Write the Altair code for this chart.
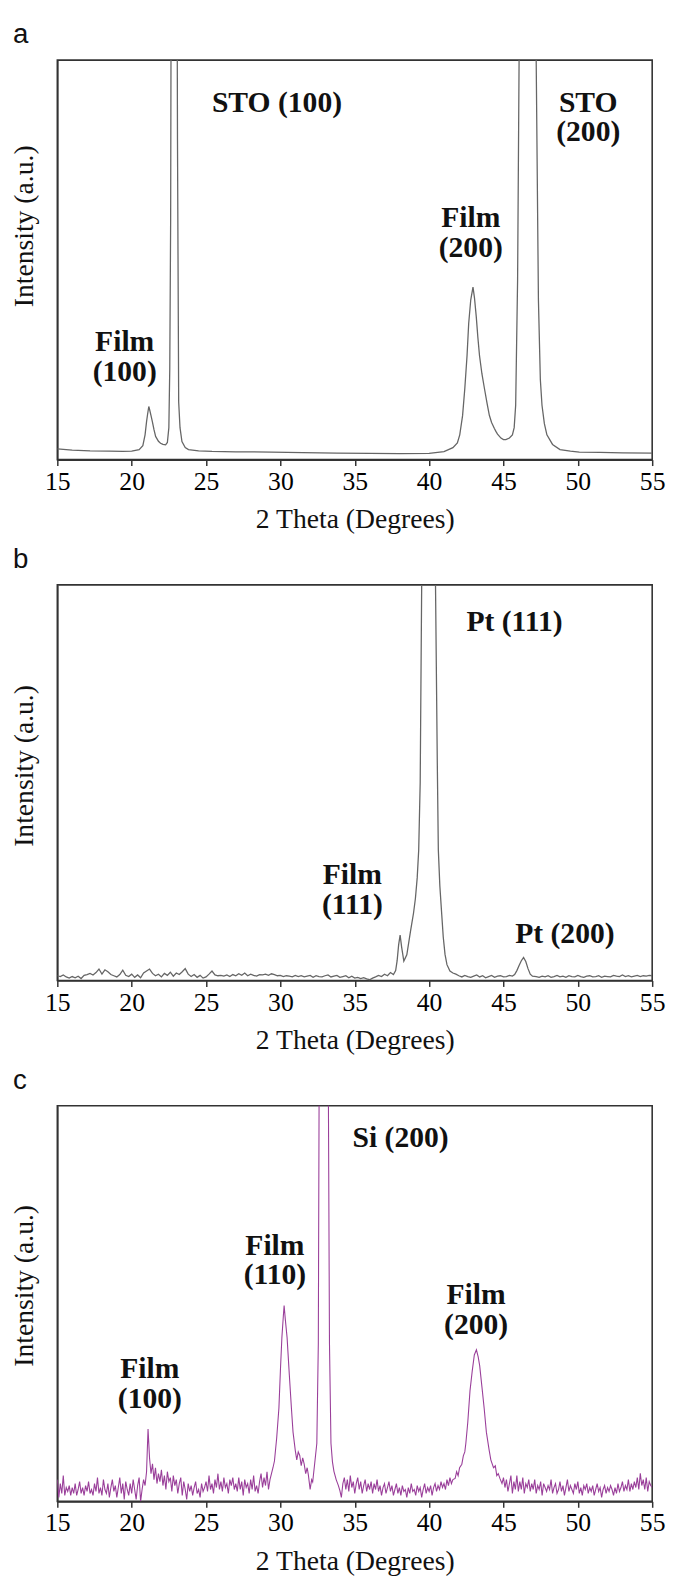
import altair as alt
import pandas as pd

# ---------------- Panel a (STO substrate) ----------------
a_x = [15.0, 16.0, 17.2, 18.5, 19.4, 20.0, 20.5, 20.75, 20.9, 21.0, 21.06, 21.15, 21.2, 21.3, 21.39,
       21.5, 21.61, 21.8, 21.94, 22.1, 22.28, 22.4, 22.5, 22.56, 22.62, 22.7, 22.85, 23.0, 23.08,
       23.16, 23.25, 23.38, 23.6, 23.82, 24.5, 25.4, 27.0, 29.4, 31.5, 33.8, 36.0, 38.0, 40.0, 41.0,
       41.6, 41.9, 42.06, 42.25, 42.4, 42.55, 42.66, 42.8, 42.95, 43.05, 43.17, 43.28, 43.39, 43.55,
       43.72, 43.9, 44.05, 44.2, 44.39, 44.5, 44.6, 44.83, 45.0, 45.16, 45.4, 45.6, 45.72, 45.82,
       45.95, 46.05, 46.3, 46.6, 46.9, 47.2, 47.35, 47.48, 47.59, 47.75, 47.92, 48.3, 48.8, 49.5,
       50.1, 51.5, 53.0, 55.0]
a_y = [2.7, 2.4, 2.2, 2.1, 2.05, 2.1, 2.5, 3.5, 6.2, 9.5, 11.1, 13.3, 12.6, 11.0, 9.5,
       7.5, 5.8, 4.6, 4.1, 3.8, 3.7, 4.3, 8.0, 22.6, 60, 200, 400, 200, 80,
       14.4, 8.0, 4.5, 3.0, 2.5, 2.2, 2.05, 1.95, 1.9, 1.75, 1.6, 1.55, 1.5, 1.55, 2.0,
       3.0, 4.2, 6.2, 11.0, 17.8, 26.0, 34.0, 40.0, 43.2, 40.5, 35.8, 30.5, 26.0, 21.5,
       17.8, 14.0, 11.1, 9.3, 7.8, 7.0, 6.4, 5.4, 5.0, 5.0, 5.4, 6.2, 8.0, 13.6,
       45, 100, 200, 300, 220, 100, 40, 20, 13.6, 9.0, 6.2, 3.8, 2.5, 2.1,
       1.9, 1.8, 1.7, 1.6]

a_lbl = ["STO (100)", "STO\n(200)", "Film\n(200)", "Film\n(100)"]
a_lx = [29.77, 50.7, 42.8, 19.53]
a_ly = [89.3, 89.3, 60.4, 29.4]

# ---------------- Panel b (Pt substrate) ----------------
b_noise1_start, b_step = 15.0, 0.2
b_noise1 = [1.2, 1.0, 1.4, 0.9, 0.6, 1.0, 0.7, 1.1, 0.5, 1.3,
            1.5, 1.8, 1.4, 2.0, 2.9, 1.6, 2.7, 2.2, 1.5, 1.2,
            0.9, 1.5, 2.6, 1.3, 1.0, 1.6, 0.8, 1.4, 0.7, 1.9,
            2.4, 2.9, 1.8, 1.2, 1.6, 0.9, 1.8, 1.3, 2.1, 1.1,
            1.9, 1.5, 2.2, 3.0, 1.6, 1.0, 1.5, 0.8, 1.3, 0.6,
            0.9, 1.6, 2.4, 1.4, 1.2, 1.3, 1.1, 1.4, 1.0, 1.5,
            1.2, 1.7, 1.3, 1.9, 1.2, 1.6, 1.3, 1.1, 1.5, 1.4,
            1.6, 1.3, 1.7, 1.5, 1.2, 1.3, 1.0, 1.2, 1.1, 0.9,
            1.3, 1.0, 1.2, 0.9, 1.1, 1.3, 0.8, 1.2, 1.0, 0.9,
            1.2, 1.4, 0.9, 1.1, 1.3, 0.8, 1.0, 1.2, 0.7, 1.1,
            0.6, 0.8, 0.5, 0.7, 0.4, 0.2, 0.6, 0.9, 1.3, 1.0,
            1.6, 1.2, 2.0, 1.5]
b_peak_x = [37.75, 37.85, 37.95, 38.05, 38.15, 38.3, 38.5, 38.75, 38.95, 39.08, 39.2, 39.3, 39.4,
            39.5, 39.9, 40.2, 40.43, 40.55, 40.62, 40.72, 40.85, 40.95, 41.07, 41.2, 41.4, 41.6, 41.8]
b_peak_y = [2.5, 5.0, 9.0, 11.5, 8.5, 4.9, 6.5, 12.5, 17.0, 20.8, 26.0, 33.0, 50.0,
            100, 400, 300, 100, 55, 33, 24, 16.6, 11.0, 6.6, 4.0, 2.4, 1.9, 1.6]
b_noise2_start = 42.0
b_noise2 = [1.2, 0.9, 1.3, 1.0, 0.8, 1.1, 1.4, 0.9, 1.2, 0.7,
            1.0, 1.3, 0.8, 1.1, 1.2, 0.9, 1.0, 1.3, 1.1]
b_pt200_x = [45.75, 45.9, 46.05, 46.2, 46.35, 46.5, 46.65, 46.8, 46.95]
b_pt200_y = [1.5, 2.5, 3.8, 5.0, 5.8, 4.8, 3.0, 1.6, 1.1]
b_noise3_start = 47.2
b_noise3 = [1.0, 0.8, 1.1, 0.9, 1.2, 0.8, 1.0, 1.3, 0.9, 1.1,
            0.8, 1.2, 1.0, 0.9, 1.3, 1.0, 0.8, 1.1, 1.2, 0.9,
            1.0, 1.2, 0.8, 1.1, 1.0, 0.9, 1.3, 1.1, 1.0, 1.4,
            1.0, 1.2, 0.9, 1.1, 1.3, 1.0, 1.2, 1.1, 1.3, 1.2]

b_lbl = ["Pt (111)", "Film\n(111)", "Pt (200)"]
b_lx = [45.74, 34.84, 49.13]
b_ly = [90.6, 26.6, 11.6]

# ---------------- Panel c (Si substrate) ----------------
c_step = 0.1
c_noise1_start = 15.0
c_noise1 = [5.5, 1.0, 4.5, 2.0, 6.5, 1.5, 3.5, 2.5, 4.0, 1.5,
            3.5, 2.0, 4.5, 1.5, 3.0, 5.0, 2.0, 3.5, 1.5, 4.0,
            2.5, 5.0, 2.0, 3.0, 1.5, 4.5, 2.5, 6.0, 2.0, 3.5,
            1.5, 5.5, 3.0, 2.0, 4.5, 1.0, 3.5, 5.5, 2.5, 4.0,
            1.0, 3.5, 6.0, 2.0, 4.5, 0.5, 5.0, 3.0, 1.5, 4.5,
            2.0, 5.5, 3.0, 0.5, 4.0, 6.0, 0.0, 3.0, 5.5, 4.0,
            7.5, 18.3, 11.0, 7.0, 9.5, 5.5, 8.5, 4.5, 7.0, 5.0,
            8.0, 4.0, 6.5, 3.0, 7.5, 5.0, 6.0, 2.5, 6.5, 4.0,
            5.5, 2.0, 4.5, 6.0, 1.5, 5.0, 3.0, 0.5, 4.5, 2.5,
            4.0, 1.5, 3.5, 5.0, 2.0, 3.0, 1.0, 4.5, 2.5, 3.5,
            5.0, 2.5, 6.5, 3.0, 4.5, 2.0, 5.5, 3.5, 7.0, 3.0,
            5.0, 2.5, 6.0, 3.5, 4.5, 2.0, 5.5, 4.0, 6.0, 3.0,
            4.5, 2.5, 6.0, 3.0, 5.0, 1.5, 5.5, 3.5, 4.5, 2.0,
            5.5, 3.0, 6.5, 2.5, 4.0, 2.0, 5.0, 7.0, 3.5, 6.0,
            4.0, 7.5, 3.0, 5.5, 7.0]
c_p1_x = [29.5, 29.6, 29.75, 29.9, 30.0, 30.1, 30.2, 30.25, 30.33, 30.45, 30.6, 30.74, 30.85,
          31.0, 31.1, 31.2, 31.3, 31.4, 31.5, 31.6, 31.7, 31.8, 31.88, 32.0, 32.1, 32.17, 32.3,
          32.45, 32.55, 32.6, 32.9, 33.23, 33.3, 33.4, 33.5, 33.6, 33.75, 33.9, 34.0]
c_p1_y = [8.5, 10.2, 16.0, 23.6, 33.0, 41.4, 47.0, 49.5, 46.0, 41.4, 32.0, 23.6, 17.5,
          12.9, 10.5, 12.5, 11.6, 9.0, 11.0, 9.4, 7.0, 8.5, 6.7, 3.0, 5.5, 4.9, 9.4,
          14.7, 40, 100, 400, 100, 40, 14.7, 10.0, 7.6, 5.5, 4.0, 2.7]
c_noise2_start = 34.1
c_noise2 = [1.0, 4.5, 6.0, 3.0, 5.5, 2.5, 6.5, 3.5, 5.0,
            2.0, 4.5, 6.0, 3.0, 5.0, 2.0, 4.0, 5.5, 2.5, 4.5,
            3.0, 5.0, 2.0, 4.5, 3.0, 5.5, 2.5, 4.0, 1.5, 3.5,
            4.5, 2.0, 3.5, 5.0, 2.5, 4.0, 1.5, 3.0, 4.5, 2.0,
            3.5, 1.5, 4.0, 2.5, 3.0, 1.0, 3.5, 2.0, 4.5, 2.5,
            3.0, 1.5, 4.0, 2.5, 3.5, 1.0, 3.0, 4.5, 2.0, 3.5,
            2.5, 4.0, 1.5, 3.5, 4.5, 2.5, 4.0, 3.0, 5.0, 3.5,
            4.5, 3.0, 5.5, 4.0, 6.0, 4.5, 5.5]
c_p2_x = [41.75, 41.85, 41.95, 42.05, 42.2, 42.3, 42.4, 42.47, 42.6, 42.75, 42.9, 43.04, 43.18,
          43.3, 43.4, 43.55, 43.7, 43.85, 44.04, 44.15, 44.33, 44.45, 44.55, 44.65, 44.76]
c_p2_y = [5.8, 7.5, 6.5, 8.5, 9.4, 11.5, 12.5, 14.7, 20.0, 28.0, 33.0, 37.0, 38.3,
          36.5, 34.3, 29.0, 23.6, 17.5, 12.9, 10.5, 8.5, 9.0, 6.5, 7.0, 5.8]
c_noise3_start = 44.9
c_noise3 = [4.5, 6.0, 3.5, 5.5, 2.5, 4.5, 6.5, 2.0, 5.0, 3.0,
            6.5, 2.5, 5.0, 3.0, 6.0, 2.0, 4.5, 3.5, 5.5, 2.5,
            4.5, 3.0, 5.5, 2.0, 4.0, 3.0, 5.0, 1.5, 4.5, 3.5,
            2.5, 4.0, 3.0, 5.5, 2.0, 3.5, 4.5, 2.0, 3.0, 5.0,
            2.5, 4.0, 1.5, 3.5, 5.5, 2.5, 4.0, 3.0, 2.0, 4.5,
            3.0, 5.0, 2.0, 3.5, 1.5, 4.0, 3.0, 4.5, 2.0, 3.5,
            2.5, 4.0, 1.5, 3.0, 4.5, 2.5, 3.5, 1.0, 3.0, 4.0,
            2.0, 3.5, 2.5, 4.0, 3.0, 1.5, 3.5, 2.0, 4.5, 2.5,
            3.5, 5.0, 2.5, 4.0, 3.0, 5.5, 2.5, 4.5, 3.0, 5.0,
            3.5, 6.0, 3.0, 7.1, 4.0, 5.5, 3.0, 6.0, 2.5, 5.0,
            4.0, 3.5]

c_lbl = ["Si (200)", "Film\n(110)", "Film\n(200)", "Film\n(100)"]
c_lx = [38.08, 29.63, 43.16, 21.22]
c_ly = [91.8, 64.6, 52.1, 33.4]


def scan(start, step, vals):
    """Positions of an evenly stepped diffractometer scan."""
    return [round(start + i * step, 3) for i in range(len(vals))]


a_df = pd.DataFrame({"x": a_x, "y": a_y})
b_df = pd.DataFrame({
    "x": scan(b_noise1_start, b_step, b_noise1) + b_peak_x + scan(b_noise2_start, b_step, b_noise2)
         + b_pt200_x + scan(b_noise3_start, b_step, b_noise3),
    "y": b_noise1 + b_peak_y + b_noise2 + b_pt200_y + b_noise3,
})
c_df = pd.DataFrame({
    "x": scan(c_noise1_start, c_step, c_noise1) + c_p1_x + scan(c_noise2_start, c_step, c_noise2)
         + c_p2_x + scan(c_noise3_start, c_step, c_noise3),
    "y": c_noise1 + c_p1_y + c_noise2 + c_p2_y + c_noise3,
})

SERIF = "Liberation Serif"
SANS = "Liberation Sans"
W = 603


def panel(df, lx, ly, lbl, letter, color, height, title_y, sw):
    x_enc = alt.X("x:Q",
                  scale=alt.Scale(domain=[15, 55], nice=False, zero=False),
                  axis=alt.Axis(values=list(range(15, 60, 5)), title="2 Theta (Degrees)",
                                labelFlush=False, labelOverlap=False, labelBaseline="middle",
                                labelPadding=16, tickSize=6, tickWidth=1.5, tickColor="#333",
                                titleY=61, titleBaseline="middle", format="d"))
    y_enc = alt.Y("y:Q",
                  scale=alt.Scale(domain=[0, 100], nice=False, zero=False),
                  axis=alt.Axis(labels=False, ticks=False, title="Intensity (a.u.)",
                                titleX=-33, titleY=title_y, titleBaseline="middle",
                                titleAlign="center"))
    line = alt.Chart(df).mark_line(clip=True, color=color, strokeWidth=sw).encode(x=x_enc, y=y_enc)
    tdf = pd.DataFrame({"x": lx, "y": ly, "label": lbl})
    txt = alt.Chart(tdf).mark_text(font=SERIF, fontSize=30, fontWeight="bold", color="#111",
                                   align="center", baseline="middle", lineBreak="\n",
                                   lineHeight=30).encode(
        x="x:Q", y="y:Q", text="label:N")
    let = alt.Chart(pd.DataFrame({"t": [letter]})).mark_text(
        font=SANS, fontSize=28, align="left", baseline="alphabetic", color="#111").encode(
        x=alt.value(-45), y=alt.value(-17), text="t:N")
    return alt.layer(line, txt, let).properties(width=W, height=height)


pa = panel(a_df, a_lx, a_ly, a_lbl, "a", "#666666", 405, 168, 1.3)
pb = panel(b_df, b_lx, b_ly, b_lbl, "b", "#666666", 401, 183, 1.3)
pc = panel(c_df, c_lx, c_ly, c_lbl, "c", "#9a3f9a", 401, 182, 1.1)

chart = alt.vconcat(pa, pb, pc, spacing=127, bounds="flush").properties(
    padding={"left": 2, "top": 2, "right": 0, "bottom": 0}
).configure_view(
    stroke="#333", strokeWidth=1.6
).configure_axis(
    grid=False, domainColor="#333", domainWidth=1.6,
    labelFont=SERIF, labelFontSize=26, labelColor="#000",
    titleFont=SERIF, titleFontSize=28, titleFontWeight="normal", titleColor="#111",
)

chart.save("out.html", embed_options={"renderer": "svg", "actions": False})
